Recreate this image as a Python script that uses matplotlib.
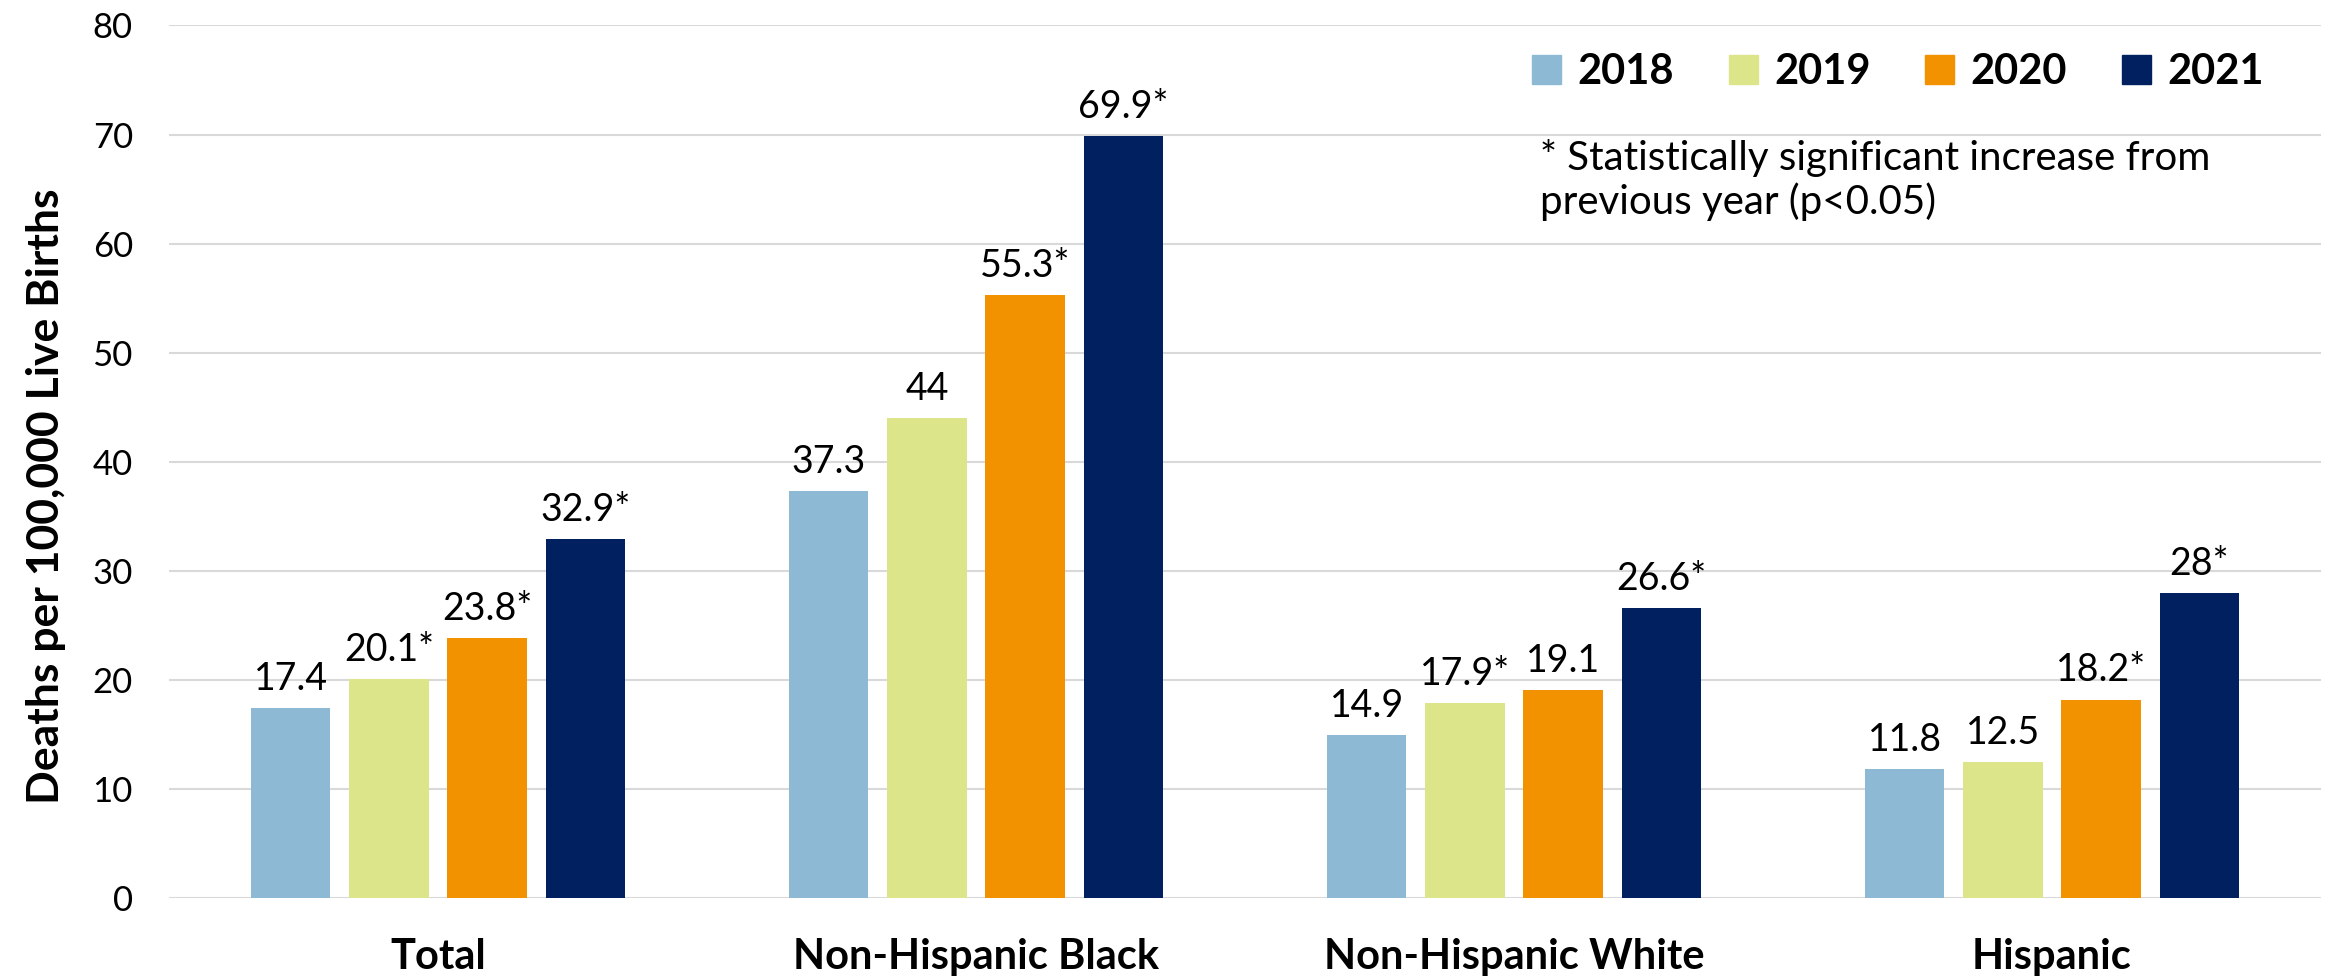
import numpy as np
import matplotlib.pyplot as plt
from matplotlib.patches import Patch

plt.rcParams['font.family'] = ['Lato', 'DejaVu Sans']

groups = ['Total', 'Non-Hispanic Black', 'Non-Hispanic White', 'Hispanic']
years = ['2018', '2019', '2020', '2021']
colors = ['#8DB9D4', '#DCE58A', '#F39200', '#00205F']

vals_2018 = [17.4, 37.3, 14.9, 11.8]
vals_2019 = [20.1, 44.0, 17.9, 12.5]
vals_2020 = [23.8, 55.3, 19.1, 18.2]
vals_2021 = [32.9, 69.9, 26.6, 28.0]

labels_2018 = ['17.4', '37.3', '14.9', '11.8']
labels_2019 = ['20.1*', '44', '17.9*', '12.5']
labels_2020 = ['23.8*', '55.3*', '19.1', '18.2*']
labels_2021 = ['32.9*', '69.9*', '26.6*', '28*']

series = [vals_2018, vals_2019, vals_2020, vals_2021]
labels = [labels_2018, labels_2019, labels_2020, labels_2021]

W, H = 2351, 980
fig = plt.figure(figsize=(W / 100, H / 100), dpi=100)
ax = fig.add_axes([169 / W, 1 - 898 / H, (2321 - 169) / W, (898 - 25.5) / H])

x = np.arange(len(groups))
bw = 0.148
step = 0.1826
offs = (np.arange(4) - 1.5) * step

for i in range(4):
    bars = ax.bar(x + offs[i], series[i], bw, color=colors[i], zorder=3)
    for b, lab in zip(bars, labels[i]):
        ax.annotate(lab, (b.get_x() + b.get_width() / 2, b.get_height()),
                    xytext=(0, 8), textcoords='offset points',
                    ha='center', va='bottom', fontsize=27, color='black')

ax.set_xlim(-0.5, 3.5)
ax.set_ylim(0, 80)
ax.set_yticks(np.arange(0, 81, 10))
ax.grid(axis='y', color='#D9D9D9', linewidth=1.5, zorder=0)
for s in ax.spines.values():
    s.set_visible(False)
ax.tick_params(axis='y', length=0, labelsize=25, pad=26)
ax.set_xticks(x)
ax.set_xticklabels(groups, fontsize=30, fontweight='bold')
ax.tick_params(axis='x', length=0, pad=29)

fig.text(46 / W, 1 - 496 / H, 'Deaths per 100,000 Live Births', rotation=90,
         ha='center', va='center', fontsize=32, fontweight='bold')

handles = [Patch(color=c) for c in colors]
fig.legend(handles, years, loc='center left', bbox_to_anchor=(1532 / W, 1 - 72 / H),
           ncol=4, frameon=False, prop={'size': 30, 'weight': 'bold'},
           handlelength=0.7, handleheight=0.7, handletextpad=0.4,
           columnspacing=1.3, borderpad=0, borderaxespad=0)

fig.text(1540 / W, 1 - 180 / H, '* Statistically significant increase from\nprevious year (p<0.05)',
         ha='left', va='center', fontsize=29, linespacing=1.2)

fig.savefig('out.png', dpi=100)
